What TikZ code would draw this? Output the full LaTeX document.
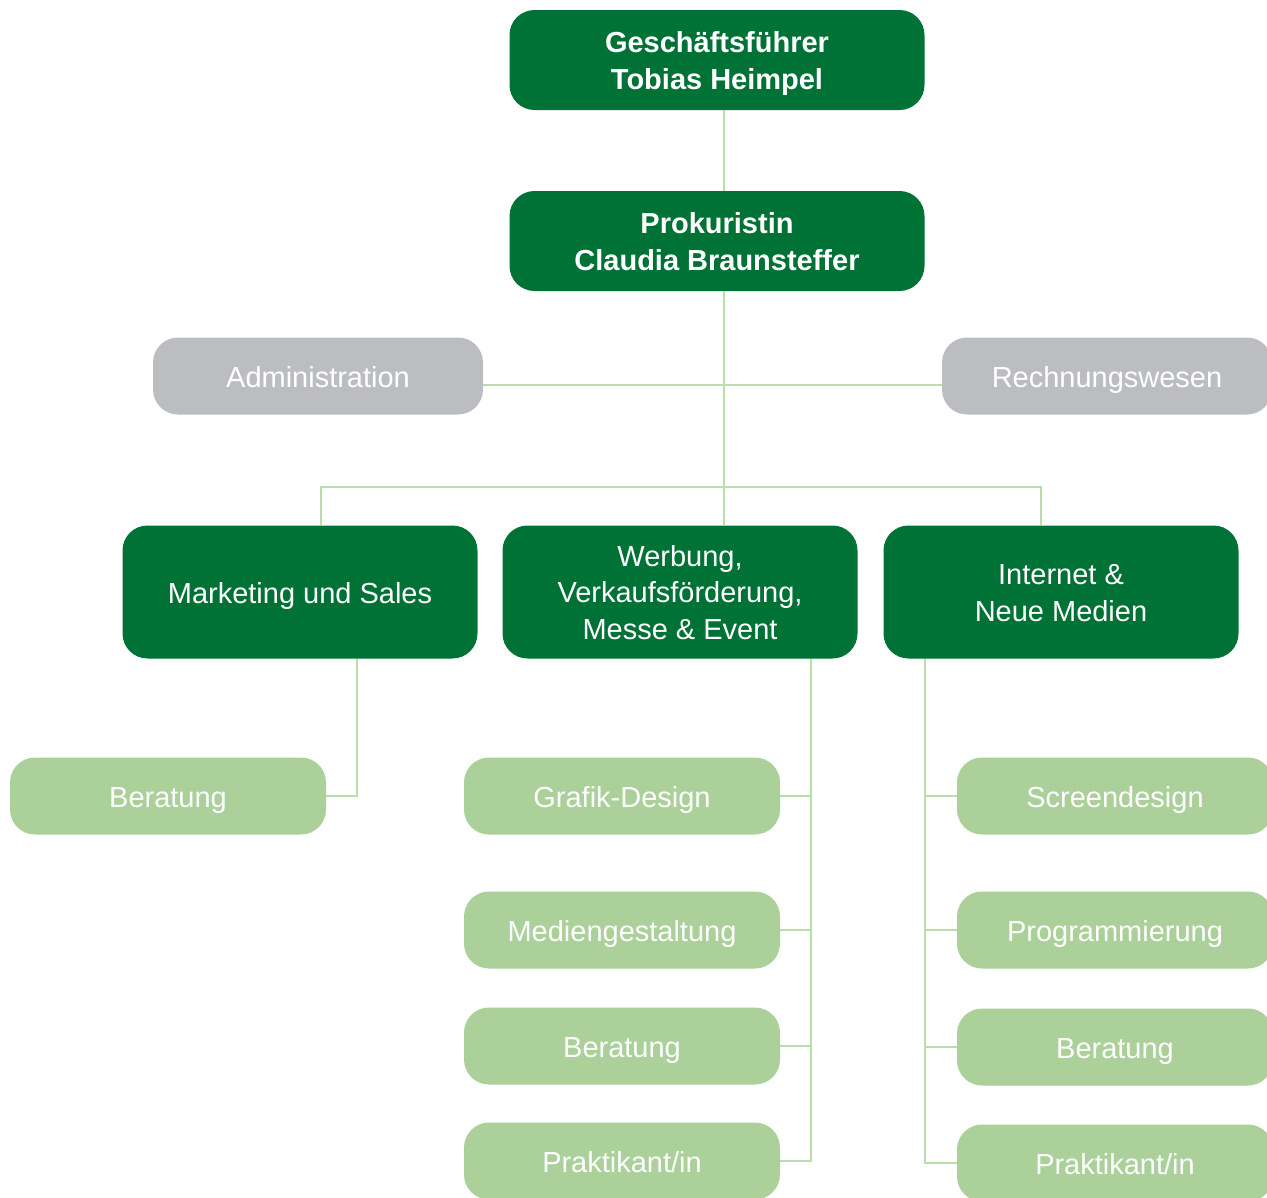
\documentclass[tikz,border=0pt]{standalone}
\usepackage{fontspec}
\setmainfont{Liberation Sans}
\usetikzlibrary{positioning,calc}
\definecolor{dgreen}{HTML}{007236}
\definecolor{lgreen}{HTML}{ABD09A}
\definecolor{lgray}{HTML}{BCBDC0}
\definecolor{wirec}{HTML}{B9DDAB}

\begin{document}
\begin{tikzpicture}[
    x=0.02cm,y=-0.02cm,
    font=\fontsize{16.5}{20.5}\selectfont
  ]
\def\px{0.02cm}
\useasboundingbox (0,0) rectangle (1267,1197);

\tikzstyle{box}=[rectangle,rounded corners=25*\px,text=white,align=center,inner sep=0pt,text height=22*\px,text depth=0pt];
\tikzstyle{two}=[text height=58*\px];
\tikzstyle{three}=[text height=94*\px];
\tikzstyle{chef}=[box,two,fill=dgreen,minimum width=415*\px,minimum height=100*\px,font=\fontsize{16.5}{20.5}\selectfont\bfseries];
\tikzstyle{staff}=[box,fill=lgray,minimum width=330*\px,minimum height=77*\px];
\tikzstyle{dept}=[box,fill=dgreen,minimum width=355*\px,minimum height=133*\px];
\tikzstyle{team}=[box,fill=lgreen,minimum width=316*\px,minimum height=77*\px];
\tikzstyle{wire}=[draw=wirec,line width=0.85pt];

\node[chef] at (717,60) (gf) {Geschäftsführer\\Tobias Heimpel};
\node[chef] at (717,241) (prok) {Prokuristin\\Claudia Braunsteffer};

\node[staff] at (318,376) (admin) {Administration};
\node[staff] at (1107,376) (rw) {Rechnungswesen};

\node[dept] at (300,592) (mark) {Marketing und Sales};
\node[dept,three] at (680,592) (werb) {Werbung,\\Verkaufsförderung,\\Messe \& Event};
\node[dept,two] at (1061,592) (inet) {Internet \&\\Neue Medien};

\node[team] at (168,796) (ber1) {Beratung};

\node[team] at (622,796) (graf) {Grafik-Design};
\node[team] at (622,930) (medien) {Mediengestaltung};
\node[team] at (622,1046) (ber2) {Beratung};
\node[team] at (622,1161) (prak2) {Praktikant/in};

\node[team] at (1115,796) (screen) {Screendesign};
\node[team] at (1115,930) (prog) {Programmierung};
\node[team] at (1115,1047) (ber3) {Beratung};
\node[team] at (1115,1163) (prak3) {Praktikant/in};

% Stammlinie
\coordinate (top) at (724,487);
\coordinate (mid) at (724,385);
\draw[wire] (gf.south -| top) -- (prok.north -| top);
\draw[wire] (prok.south -| top) -- (top);
\draw[wire] (admin.east |- mid) -- (rw.west |- mid);

\coordinate (barl) at (321,487);
\coordinate (barr) at (1041,487);
\draw[wire] (mark.north -| barl) -- (barl) -- (barr) -- (inet.north -| barr);
\draw[wire] (top) -- (werb.north -| top);

% Abteilungen
\coordinate (mk) at (357,796);
\draw[wire] (mark.south -| mk) -- (mk) -- (ber1.east);

\coordinate (wv) at (811,0);
\foreach \n in {graf,medien,ber2,prak2}
  \draw[wire] (\n.east) -| (werb.south -| wv);

\coordinate (iv) at (925,0);
\foreach \n in {screen,prog,ber3,prak3}
  \draw[wire] (\n.west) -| (inet.south -| iv);

\end{tikzpicture}
\end{document}
